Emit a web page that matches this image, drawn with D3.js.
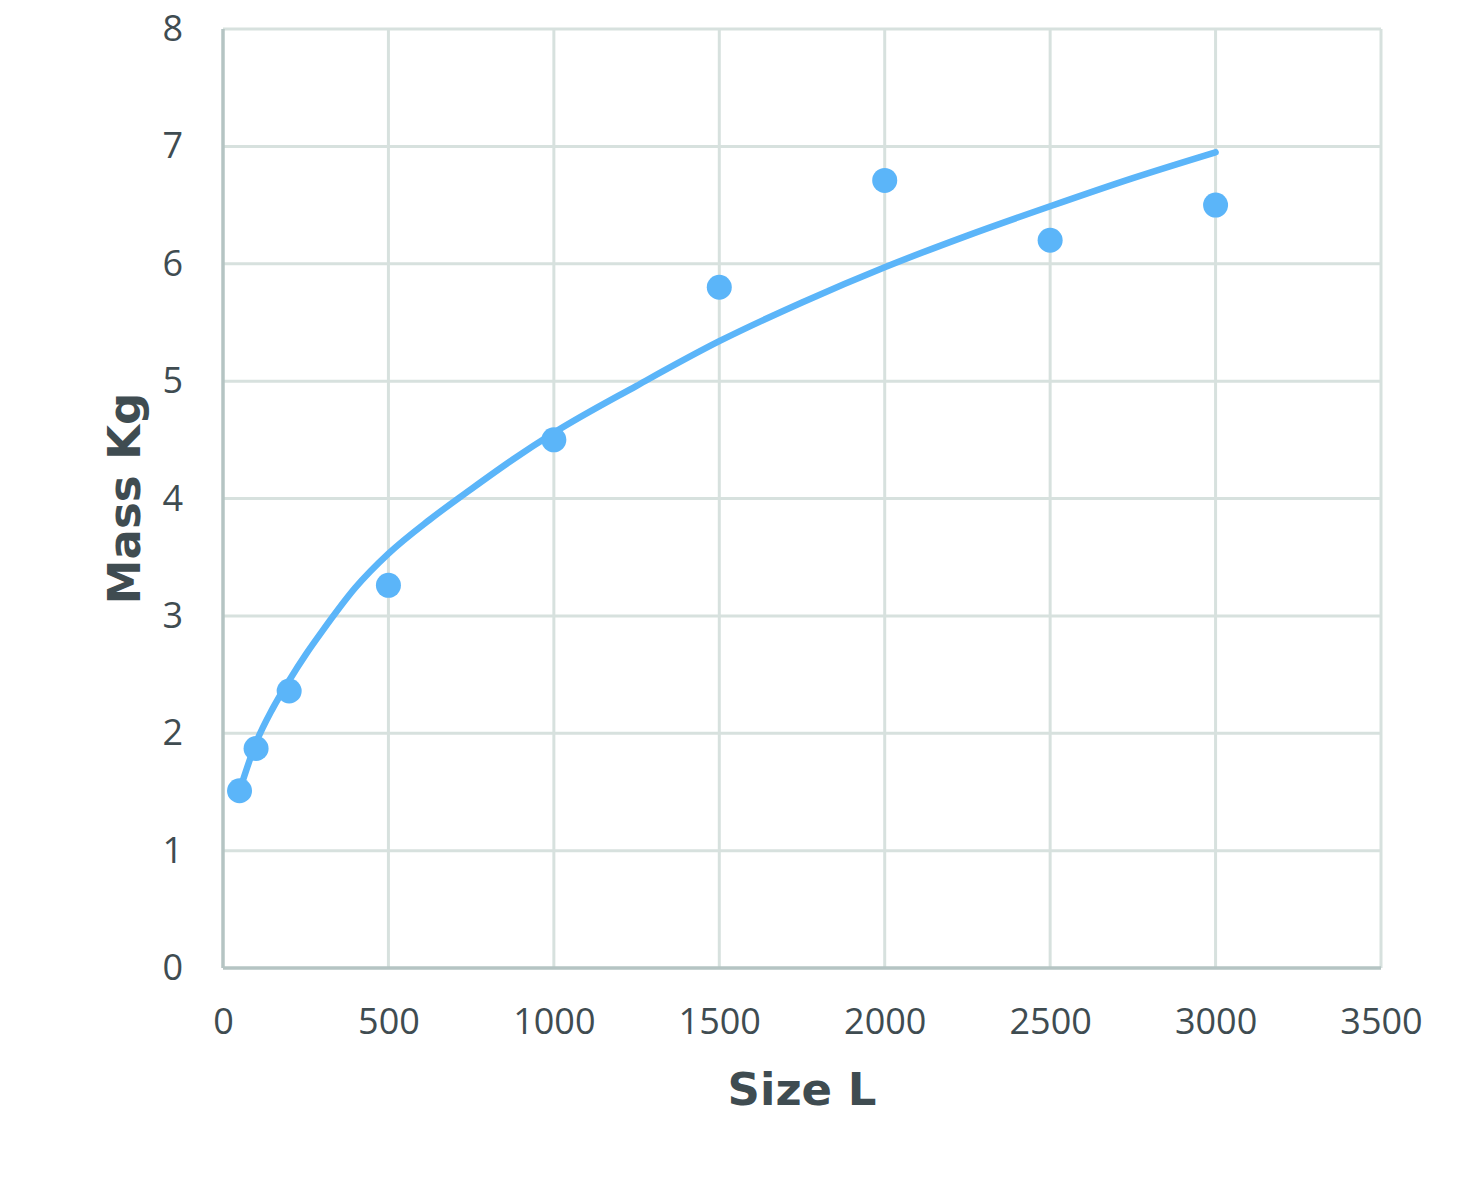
<!DOCTYPE html>
<html>
<head>
<meta charset="utf-8">
<script src="https://cdn.jsdelivr.net/npm/d3@7"></script>
<style>
    body { margin: 0; background: #fff; }
    .tick text { font-family: "Open Sans", sans-serif; font-size: 36px; fill: #3f4c51; }
    .title { font-family: "DejaVu Sans", Verdana, sans-serif; font-weight: bold; font-size: 45px; fill: #3f4c51; }
</style>
</head>
<body>
<div id="chart"></div>
<script>
// measured points
const sizes = [50, 100, 200, 500, 1000, 1500, 2000, 2500, 3000];
const masses = [1.51, 1.87, 2.36, 3.26, 4.50, 5.80, 6.71, 6.20, 6.50];

// trend line
const trendX = [50, 100, 150, 200, 250, 300, 400, 500, 625, 750, 875, 1000, 1250, 1500, 1750, 2000, 2250, 2500, 2750, 3000];
const trendY = [1.51, 1.92, 2.21, 2.45, 2.67, 2.87, 3.24, 3.53, 3.82, 4.08, 4.33, 4.56, 4.96, 5.34, 5.67, 5.97, 6.24, 6.49, 6.73, 6.95];

const xTicks = [0, 500, 1000, 1500, 2000, 2500, 3000, 3500];
const yTicks = [0, 1, 2, 3, 4, 5, 6, 7, 8];

const width = 1460;
const height = 1196;
var margin = {top: 29, right: 79, bottom: 228, left: 223};

const x = d3.scaleLinear()
    .domain([0, 3500])
    .range([margin.left, width - margin.right]);

const y = d3.scaleLinear()
    .domain([0, 8])
    .range([height - margin.bottom, margin.top]);

const svg = d3.select("#chart")
    .append("svg")
    .attr("width", width)
    .attr("height", height);

// grid
svg.append("g")
    .attr("stroke", "#d7e1de")
    .attr("stroke-width", 3)
    .selectAll("line.v")
    .data(xTicks.slice(1))
    .join("line")
    .attr("x1", d => x(d))
    .attr("x2", d => x(d))
    .attr("y1", y(8))
    .attr("y2", y(0));

svg.append("g")
    .attr("stroke", "#d7e1de")
    .attr("stroke-width", 3)
    .selectAll("line.h")
    .data(yTicks.slice(1))
    .join("line")
    .attr("x1", x(0))
    .attr("x2", x(3500))
    .attr("y1", d => y(d))
    .attr("y2", d => y(d));

// axis lines
svg.append("line")
    .attr("x1", x(0)).attr("x2", x(0))
    .attr("y1", y(8)).attr("y2", y(0))
    .attr("stroke", "#b5c4c3").attr("stroke-width", 3.5);
svg.append("line")
    .attr("x1", x(0)).attr("x2", x(3500))
    .attr("y1", y(0)).attr("y2", y(0))
    .attr("stroke", "#b5c4c3").attr("stroke-width", 3.5);

// tick labels
svg.append("g")
    .attr("transform", "translate(0," + y(0) + ")")
    .call(d3.axisBottom(x).tickValues(xTicks).tickSize(0).tickPadding(40).tickFormat(d3.format("d")))
    .call(g => g.select(".domain").remove());

svg.append("g")
    .attr("transform", "translate(" + x(0) + ",0)")
    .call(d3.axisLeft(y).tickValues(yTicks).tickSize(0).tickPadding(40).tickFormat(d3.format("d")))
    .call(g => g.select(".domain").remove());

// trend line
const trend = trendX.map((d, i) => [d, trendY[i]]);
svg.append("path")
    .datum(trend)
    .attr("fill", "none")
    .attr("stroke", "#5bb5f9")
    .attr("stroke-width", 6.5)
    .attr("stroke-linecap", "round")
    .attr("stroke-linejoin", "round")
    .attr("d", d3.line()
        .x(d => x(d[0]))
        .y(d => y(d[1]))
        .curve(d3.curveMonotoneX));

// points
svg.append("g")
    .attr("fill", "#5bb5f9")
    .selectAll("circle")
    .data(sizes)
    .join("circle")
    .attr("cx", d => x(d))
    .attr("cy", (d, i) => y(masses[i]))
    .attr("r", 12.5);

// axis titles
svg.append("text")
    .attr("class", "title")
    .attr("x", (x(0) + x(3500)) / 2)
    .attr("y", 1105)
    .attr("text-anchor", "middle")
    .text("Size L");

svg.append("text")
    .attr("class", "title")
    .attr("text-anchor", "middle")
    .attr("transform", "translate(140," + (y(0) + y(8)) / 2 + ") rotate(-90)")
    .text("Mass Kg");
</script>
</body>
</html>
